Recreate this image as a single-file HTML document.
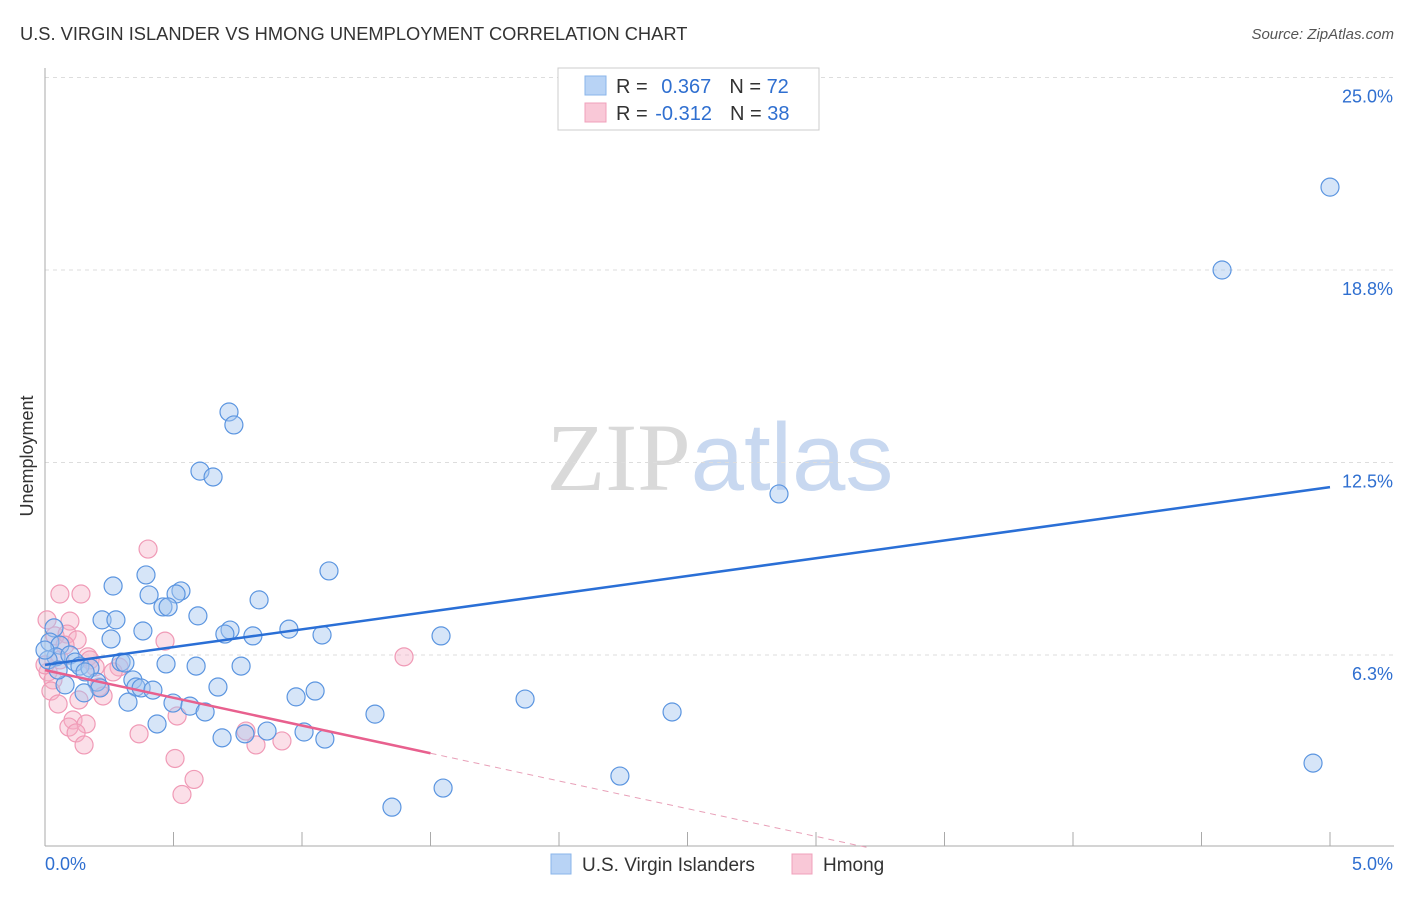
<!DOCTYPE html>
<html><head><meta charset="utf-8">
<style>
body{margin:0;background:#fff;font-family:"Liberation Sans",sans-serif;}
svg text{font-family:"Liberation Sans",sans-serif;}
</style></head>
<body>
<svg id="chart" width="1406" height="892" xmlns="http://www.w3.org/2000/svg">
<text x="20" y="40" font-size="18.3" fill="#333">U.S. VIRGIN ISLANDER VS HMONG UNEMPLOYMENT CORRELATION CHART</text>
<text x="1394" y="39" font-size="15" fill="#555" font-style="italic" text-anchor="end">Source: ZipAtlas.com</text>
<text x="720" y="490" font-size="96" text-anchor="middle"><tspan fill="#d9d9d9" font-family="Liberation Serif">ZIP</tspan><tspan fill="#c8d8f0">atlas</tspan></text>
<text transform="translate(33,456) rotate(-90)" font-size="18" fill="#333" text-anchor="middle">Unemployment</text>
<g id="grid"></g><g id="marks"></g>
<g>
<rect x="558" y="68" width="261" height="62" fill="#fff" stroke="#ccc"/>
<rect x="585" y="76" width="21" height="19" fill="#b8d3f5" stroke="#8ab4ea"/>
<rect x="585" y="103" width="21" height="19" fill="#f9c8d7" stroke="#f0a0bb"/>
<text x="616" y="93" font-size="20" fill="#333">R = <tspan fill="#2f6fd0" dx="8">0.367</tspan><tspan dx="18" fill="#333">N = </tspan><tspan fill="#2f6fd0">72</tspan></text>
<text x="616" y="120" font-size="20" fill="#333">R = <tspan fill="#2f6fd0" dx="2">-0.312</tspan><tspan dx="18" fill="#333">N = </tspan><tspan fill="#2f6fd0">38</tspan></text>
</g>
<g>
<rect x="551" y="854" width="20" height="20" fill="#b8d3f5" stroke="#8ab4ea"/>
<text x="582" y="871" font-size="19" fill="#333">U.S. Virgin Islanders</text>
<rect x="792" y="854" width="20" height="20" fill="#f9c8d7" stroke="#f0a0bb"/>
<text x="823" y="871" font-size="19" fill="#333">Hmong</text>
</g>
</svg>
<script>
const blueX=[5.00,4.58,0.716,0.735,0.603,0.654,2.856,1.105,0.265,0.393,0.529,0.510,0.405,0.459,0.479,0.833,0.595,0.222,0.276,0.381,0.720,0.700,0.809,0.949,1.078,1.541,0.257,0.035,0.019,0.058,0.043,0.097,0.117,0.136,0.175,0.296,0.311,0.471,0.588,0.763,0.078,0.202,0.214,0.342,0.354,0.374,0.420,0.673,0.152,0.977,1.051,1.868,0.323,0.498,0.564,0.623,1.284,2.440,0.436,0.864,1.008,1.089,0.689,0.778,2.237,1.549,1.350,4.934,0.012,0.051,0.0,0.156];
const blueY=[21.44,18.75,14.14,13.72,12.22,12.03,11.48,8.98,8.49,8.85,8.33,8.23,8.20,7.81,7.81,8.04,7.52,7.39,7.39,7.03,7.06,6.93,6.87,7.09,6.90,6.87,6.77,7.13,6.67,6.57,6.19,6.25,6.02,5.89,5.83,6.02,5.99,5.96,5.89,5.89,5.28,5.37,5.18,5.44,5.21,5.18,5.11,5.21,5.02,4.89,5.08,4.82,4.72,4.69,4.59,4.40,4.33,4.40,4.01,3.78,3.75,3.52,3.56,3.69,2.32,1.93,1.31,2.74,6.09,5.76,6.41,5.70];
const pinkX=[0.401,0.058,0.140,0.008,0.097,0.039,0.086,0.125,0.467,0.167,0.175,1.397,0.288,0.012,0.031,0.210,0.023,0.226,0.132,0.051,0.514,0.109,0.160,0.093,0.121,0.366,0.782,0.152,0.821,0.922,0.506,0.580,0.533,0.058,0,0.078,0.195,0.265];
const pinkY=[9.69,8.23,8.23,7.39,7.35,6.87,6.93,6.74,6.70,6.19,6.09,6.19,5.86,5.70,5.44,5.21,5.08,4.92,4.79,4.66,4.27,4.14,4.01,3.91,3.72,3.69,3.78,3.33,3.33,3.46,2.89,2.21,1.72,6.09,5.93,6.57,5.86,5.70];
const yTicks=[6.25,12.5,18.75,25];
const yTickLabels=["6.3%","12.5%","18.8%","25.0%"];
const blueTrend=[5.93,11.70];
const pinkTrend=[5.76,-1.80];
const NS="http://www.w3.org/2000/svg";
const X=v=>45+v*257, Y=v=>847.5-v*30.8;
function mk(t,a,p){const e=document.createElementNS(NS,t);for(const k in a)e.setAttribute(k,a[k]);p.appendChild(e);return e;}
const g=document.getElementById('grid'), m=document.getElementById('marks');
yTicks.forEach((t,i)=>{
 const l=mk('line',{x1:45,x2:1394,y1:Y(t),y2:Y(t),stroke:'#ddd','stroke-dasharray':'4,4'},g);
 
 
 const tx=mk('text',{x:1393,y:Y(t)+25,'font-size':18,fill:'#2f6fd0','text-anchor':'end'},g);
 tx.textContent=yTickLabels[i];
 
 
});
const ax=mk('line',{x1:45,x2:45,y1:68,y2:846,stroke:'#aaa'},g);


const bx=mk('line',{x1:45,x2:1394,y1:846,y2:846,stroke:'#aaa'},g);


for(let i=0;i<=10;i++){const t=mk('line',{x1:X(i*0.5),x2:X(i*0.5),y1:832,y2:846,stroke:'#aaa'},g);
 
 }
[["0.0%",45,"start"],["5.0%",1393,"end"]].forEach(a=>{const t=mk('text',{x:a[1],y:870,'font-size':18,fill:'#2f6fd0','text-anchor':a[2]},g);t.textContent=a[0];
 
 });
pinkX.forEach((v,i)=>{const c=mk('circle',{cx:X(v),cy:Y(pinkY[i]),r:9,fill:'rgba(246,175,198,0.4)',stroke:'#f09ab6','stroke-width':1.2},m);
 
 });
blueX.forEach((v,i)=>{const c=mk('circle',{cx:X(v),cy:Y(blueY[i]),r:9,fill:'rgba(165,198,240,0.45)',stroke:'#5b95e0','stroke-width':1.2},m);
 
 });
const bl=mk('line',{x1:X(0),y1:Y(blueTrend[0]),x2:X(5),y2:Y(blueTrend[1]),stroke:'#2a6fd6','stroke-width':2.5},m);


const pe=1.5, pz=-pinkTrend[0]/pinkTrend[1];
const pl=mk('line',{x1:X(0),y1:Y(pinkTrend[0]),x2:X(pe),y2:Y(pinkTrend[0]+pinkTrend[1]*pe),stroke:'#e8608e','stroke-width':2.5},m);


const pd=mk('line',{x1:X(pe),y1:Y(pinkTrend[0]+pinkTrend[1]*pe),x2:X(pz),y2:Y(0),stroke:'#e8a0b8','stroke-width':1,'stroke-dasharray':'6,5'},m);


</script>
</body></html>
